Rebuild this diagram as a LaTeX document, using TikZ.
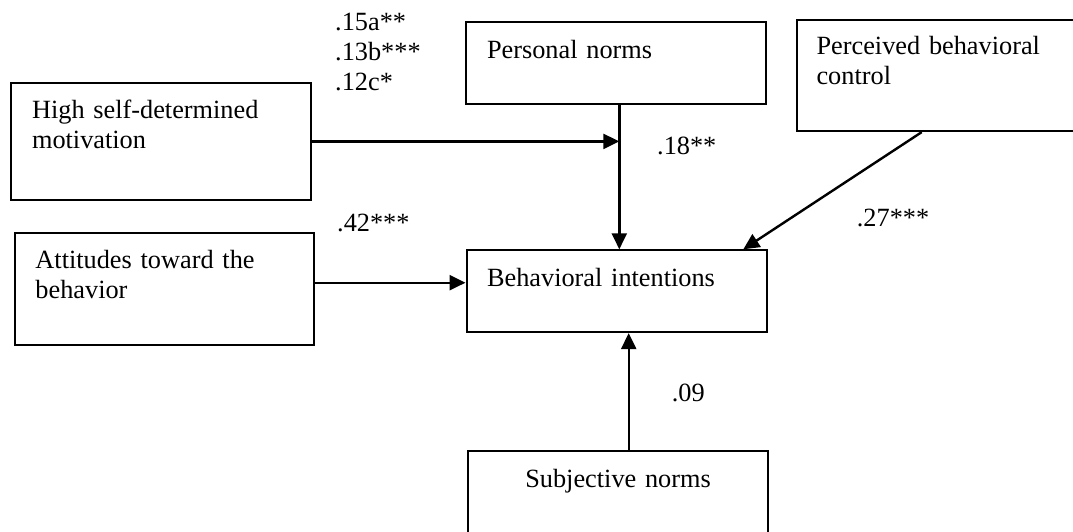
\documentclass[tikz,border=0pt]{standalone}
\usepackage{fontspec}
\setmainfont{Liberation Serif}
\usetikzlibrary{arrows.meta,calc}
\begin{document}
\begin{tikzpicture}[x=1pt,y=-1pt,
  every node/.style={font=\fontsize{26.3}{30}\selectfont},
  box/.style={draw, line width=2.1pt, rectangle, anchor=north west, inner ysep=0pt, align=left},
  lbl/.style={anchor=base west, inner sep=0pt},
  arr/.style={line width=2.4pt, -{Triangle[length=16pt,width=15pt]}}]
\clip (0,0) rectangle (1073,531);
\fill[white] (0,0) rectangle (1073,531);
% boxes
\node[box, inner xsep=21.4pt, text width=257.6pt, text height=35.6pt, text depth=81.7pt] (mot) at (9.6,81.7) {High self-determined\\motivation};
\node[box, inner xsep=20.4pt, text width=258.5pt, text height=35.3pt, text depth=77pt] (att) at (14,231.7) {Attitudes toward the\\behavior};
\node[box, inner xsep=21pt, text width=257.5pt, text height=36.3pt, text depth=45.7pt] (pn) at (465,20.7) {Personal norms};
\node[box, inner xsep=19.8pt, text width=244.7pt, text height=34pt, text depth=77pt] (pbc) at (795.7,19) {Perceived behavioral\\control};
\node[box, inner xsep=20.5pt, text width=259.5pt, text height=35.7pt, text depth=46pt] (bi) at (465.5,249.3) {Behavioral intentions};
\node[box, align=center, inner xsep=10pt, text width=279.4pt, text height=36pt, text depth=49pt] (sn) at (467.3,450) {Subjective norms};
% connector guide coordinates
\coordinate (vx) at (619.3,140.7);
\coordinate (pbcout) at (921.7,130);
\coordinate (biin) at (743.3,249.3);
\coordinate (atty) at (0,282.7);
\coordinate (snx) at (628.7,0);
% connectors
\draw[arr] (mot.east) -- (mot.east -| vx);
\draw[arr] (pn.south -| vx) -- (bi.north -| vx);
\draw[arr] (pbc.south -| pbcout) -- (bi.north -| biin);
\draw[arr] (att.east |- atty) -- (bi.west |- atty);
\draw[arr] (sn.north -| snx) -- (bi.south -| snx);
% coefficients
\node[lbl] (c1) at (335,30) {.15a**};
\node[lbl] (c2) at (335,60.3) {.13b***};
\node[lbl] (c3) at (335,90.7) {.12c*};
\node[lbl] (c4) at (337,231) {.42***};
\node[lbl] (c5) at (657,154) {.18**};
\node[lbl] (c6) at (856.7,226) {.27***};
\node[lbl] (c7) at (671.7,401.7) {.09};
\end{tikzpicture}
\end{document}
